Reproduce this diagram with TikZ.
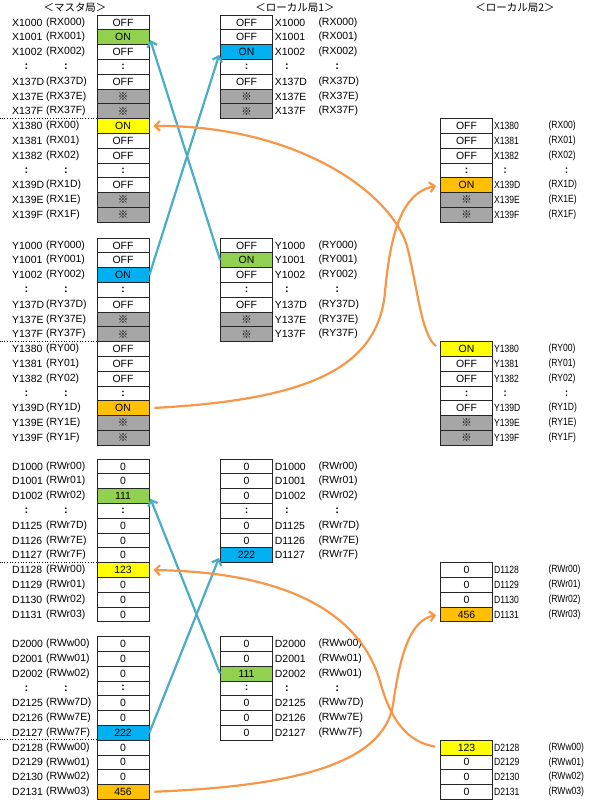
\documentclass[tikz,border=0pt]{standalone}
\usepackage{fontspec}
\setmainfont{Liberation Sans}
\newfontfamily\jpfont{Noto Sans CJK JP}
\newfontfamily\narrowfont[FakeStretch=0.82]{Liberation Sans}
\usetikzlibrary{arrows.meta}

% marca per le celle riservate
\newcommand{\kome}{{\jpfont ※}}
\newcommand{\dd}{\textbf{:}}

% colonna di celle: prefisso, x, y alto, lista valore/colore
\newcommand{\regcells}[4]{%
  \foreach \val/\fc [count=\i] in {#4}
    \node[cell, fill=\fc] (#1\i) at (#2,{#3+(\i-0.5)*\rowh}) {\val};}

% etichette: prefisso, x nome, x parentesi, y alto, lista riga/nome/parentesi
\newcommand{\reglabels}[5]{%
  \foreach \k/\nm/\br in {#5} {
    \node[lbl] (#1n\k) at (#2,{#4+(\k-0.5)*\rowh}) {\nm};
    \node[lbl] (#1b\k) at (#3,{#4+(\k-0.5)*\rowh}) {\br};}}

% righe con i due punti
\newcommand{\regdots}[5]{%
  \foreach \k in {#5} {
    \node[dots] (#1c\k) at (#2,{#4+(\k-0.5)*\rowh}) {:};
    \node[dots] (#1d\k) at (#3,{#4+(\k-0.5)*\rowh}) {:};}}

\tikzset{
  cell/.style={draw=black!85, line width=0.8bp, minimum width=52bp,
    minimum height=14.8bp, inner sep=0pt, font=\fontsize{10.5}{12}\selectfont},
  lbl/.style={anchor=west, inner sep=0pt, font=\fontsize{10.5}{12}\selectfont},
  dots/.style={inner sep=0pt, font=\fontsize{11}{12}\selectfont\bfseries},
  narrow/.style={lbl/.append style={font=\narrowfont\fontsize{10.5}{12}\selectfont},
    dots/.append style={font=\narrowfont\fontsize{11}{12}\selectfont\bfseries}},
  title/.style={inner sep=0pt, font=\jpfont\fontsize{10.5}{12}\selectfont},
  sepline/.style={dotted, line width=0.7bp},
  bluearr/.style={draw=arrBlue, line width=2.2bp, shorten >=3bp,
    -{Straight Barb[length=5bp,width=10bp]}},
  orangearr/.style={draw=arrOrange, line width=2.2bp, shorten >=4bp, shorten <=5bp,
    -{Straight Barb[length=5bp,width=10bp]}}
}

\begin{document}
\begin{tikzpicture}[x=1bp, y=-1bp]

% Colori
\definecolor{cG}{HTML}{92D050}
\definecolor{cB}{HTML}{00B0F0}
\definecolor{cY}{HTML}{FFFF00}
\definecolor{cO}{HTML}{FFC000}
\definecolor{cK}{HTML}{A6A6A6}
\definecolor{arrBlue}{HTML}{4BACC6}
\definecolor{arrOrange}{HTML}{F79646}

% altezza riga
\def\rowh{14.8}

\useasboundingbox (0,0) rectangle (590,800);

% Titoli
\node[title] (tMaster) at (75,7.5) {＜マスタ局＞};
\node[title] (tLocal1) at (295,7.5) {＜ローカル局1＞};
\node[title] (tLocal2) at (515,7.5) {＜ローカル局2＞};

% ---------------- Stazione master ----------------
% X
\regcells{mx}{123}{15}{OFF/white,ON/cG,OFF/white,\dd/white,OFF/white,\kome/cK,\kome/cK,
  ON/cY,OFF/white,OFF/white,\dd/white,OFF/white,\kome/cK,\kome/cK}
\reglabels{mxl}{12}{46}{15}{1/X1000/(RX000),2/X1001/(RX001),3/X1002/(RX002),
  5/X137D/(RX37D),6/X137E/(RX37E),7/X137F/(RX37F),8/X1380/(RX00),9/X1381/(RX01),
  10/X1382/(RX02),12/X139D/(RX1D),13/X139E/(RX1E),14/X139F/(RX1F)}
\regdots{mxl}{26.5}{66}{15}{4,11}
\draw[sepline] (mx8.north west) -- ++(-97,0);

% Y
\regcells{my}{123}{238}{OFF/white,OFF/white,ON/cB,\dd/white,OFF/white,\kome/cK,\kome/cK,
  OFF/white,OFF/white,OFF/white,\dd/white,ON/cO,\kome/cK,\kome/cK}
\reglabels{myl}{12}{46}{238}{1/Y1000/(RY000),2/Y1001/(RY001),3/Y1002/(RY002),
  5/Y137D/(RY37D),6/Y137E/(RY37E),7/Y137F/(RY37F),8/Y1380/(RY00),9/Y1381/(RY01),
  10/Y1382/(RY02),12/Y139D/(RY1D),13/Y139E/(RY1E),14/Y139F/(RY1F)}
\regdots{myl}{26.5}{66}{238}{4,11}
\draw[sepline] (my8.north west) -- ++(-97,0);

% RWr
\regcells{md}{123}{459}{0/white,0/white,111/cG,\dd/white,0/white,0/white,0/white,
  123/cY,0/white,0/white,0/white}
\reglabels{mdl}{12}{46}{459}{1/D1000/(RWr00),2/D1001/(RWr01),3/D1002/(RWr02),
  5/D1125/(RWr7D),6/D1126/(RWr7E),7/D1127/(RWr7F),8/D1128/(RWr00),9/D1129/(RWr01),
  10/D1130/(RWr02),11/D1131/(RWr03)}
\regdots{mdl}{26.5}{66}{459}{4}
\draw[sepline] (md8.north west) -- ++(-97,0);

% RWw
\regcells{mw}{123}{636.5}{0/white,0/white,0/white,\dd/white,0/white,0/white,222/cB,
  0/white,0/white,0/white,456/cO}
\reglabels{mwl}{12}{46}{636.5}{1/D2000/(RWw00),2/D2001/(RWw01),3/D2002/(RWw02),
  5/D2125/(RWw7D),6/D2126/(RWw7E),7/D2127/(RWw7F),8/D2128/(RWw00),9/D2129/(RWw01),
  10/D2130/(RWw02),11/D2131/(RWw03)}
\regdots{mwl}{26.5}{66}{636.5}{4}
\draw[sepline] (mw8.north west) -- ++(-97,0);

% ---------------- Stazione locale 1 ----------------
\regcells{ax}{246.5}{15}{OFF/white,OFF/white,ON/cB,\dd/white,OFF/white,\kome/cK,\kome/cK}
\reglabels{axl}{274.7}{318.3}{15}{1/X1000/(RX000),2/X1001/(RX001),3/X1002/(RX002),
  5/X137D/(RX37D),6/X137E/(RX37E),7/X137F/(RX37F)}
\regdots{axl}{287}{337.3}{15}{4}

\regcells{ay}{246.5}{238}{OFF/white,ON/cG,OFF/white,\dd/white,OFF/white,\kome/cK,\kome/cK}
\reglabels{ayl}{274.7}{318.3}{238}{1/Y1000/(RY000),2/Y1001/(RY001),3/Y1002/(RY002),
  5/Y137D/(RY37D),6/Y137E/(RY37E),7/Y137F/(RY37F)}
\regdots{ayl}{287}{337.3}{238}{4}

\regcells{ad}{246.5}{459}{0/white,0/white,0/white,\dd/white,0/white,0/white,222/cB}
\reglabels{adl}{274.7}{318.3}{459}{1/D1000/(RWr00),2/D1001/(RWr01),3/D1002/(RWr02),
  5/D1125/(RWr7D),6/D1126/(RWr7E),7/D1127/(RWr7F)}
\regdots{adl}{287}{337.3}{459}{4}

\regcells{aw}{246.5}{636.5}{0/white,0/white,111/cG,\dd/white,0/white,0/white,0/white}
\reglabels{awl}{274.7}{318.3}{636.5}{1/D2000/(RWw00),2/D2001/(RWw01),3/D2002/(RWw01),
  5/D2125/(RWw7D),6/D2126/(RWw7E),7/D2127/(RWw7F)}
\regdots{awl}{287}{337.3}{636.5}{4}

% ---------------- Stazione locale 2 ----------------
\begin{scope}[narrow]
\regcells{bx}{466.5}{118.6}{OFF/white,OFF/white,OFF/white,\dd/white,ON/cO,\kome/cK,\kome/cK}
\reglabels{bxl}{494}{548.3}{118.6}{1/X1380/(RX00),2/X1381/(RX01),3/X1382/(RX02),
  5/X139D/(RX1D),6/X139E/(RX1E),7/X139F/(RX1F)}
\regdots{bxl}{505}{566.7}{118.6}{4}

\regcells{by}{466.5}{341.6}{ON/cY,OFF/white,OFF/white,\dd/white,OFF/white,\kome/cK,\kome/cK}
\reglabels{byl}{494}{548.3}{341.6}{1/Y1380/(RY00),2/Y1381/(RY01),3/Y1382/(RY02),
  5/Y139D/(RY1D),6/Y139E/(RY1E),7/Y139F/(RY1F)}
\regdots{byl}{505}{566.7}{341.6}{4}

\regcells{bd}{466.5}{562.6}{0/white,0/white,0/white,456/cO}
\reglabels{bdl}{494}{548.3}{562.6}{1/D1128/(RWr00),2/D1129/(RWr01),3/D1130/(RWr02),
  4/D1131/(RWr03)}

\regcells{bw}{466.5}{740.1}{123/cY,0/white,0/white,0/white}
\reglabels{bwl}{494}{548.3}{740.1}{1/D2128/(RWw00),2/D2129/(RWw01),3/D2130/(RWw02),
  4/D2131/(RWw03)}
\end{scope}

% ---------------- Frecce ----------------
% trasferimento ciclico (blu)
\draw[bluearr] (my3.east) -- (ax3.west);
\draw[bluearr] (ay2.west) -- (mx2.east);
\draw[bluearr] (mw7.east) -- (ad7.west);
\draw[bluearr] (aw3.west) -- (md3.east);

% trasferimento verso la locale 2 (arancio)
\draw[orangearr] (my12.east) .. controls (300,400) and (378,372) .. (385,292)
  .. controls (391,225) and (405,192) .. (bx5.west);
\draw[orangearr] (by1.west) .. controls (422,336) and (418,292) .. (408,250)
  .. controls (396,196) and (300,125) .. (mx8.east);
\draw[orangearr] (mw11.east) .. controls (300,786) and (383,762) .. (393,705)
  .. controls (400,655) and (410,620) .. (bd4.west);
\draw[orangearr] (bw1.west) .. controls (408,742) and (392,722) .. (381,685)
  .. controls (362,612) and (285,572) .. (md8.east);

\end{tikzpicture}
\end{document}
